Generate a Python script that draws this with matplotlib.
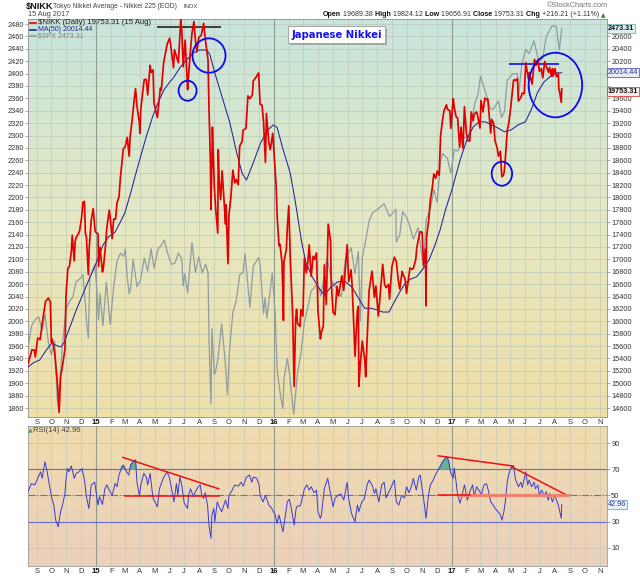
import matplotlib.pyplot as plt
import matplotlib.dates as mdates
import matplotlib.patheffects as pe
import matplotlib.colors as mcolors
import matplotlib.transforms as mtransforms
from matplotlib.patches import Ellipse
from matplotlib.lines import Line2D
import numpy as np
import pandas as pd

plt.rcParams['font.family'] = ['Liberation Sans', 'DejaVu Sans']

# --- Nikkei 225 daily closes (red line, right axis) ---
nikk_dates = [
    '2014-08-14', '2014-08-19', '2014-08-22', '2014-08-27', '2014-08-29', '2014-09-03', '2014-09-08', '2014-09-12',
    '2014-09-19', '2014-09-25', '2014-09-29', '2014-10-01', '2014-10-03', '2014-10-08', '2014-10-10', '2014-10-14',
    '2014-10-17', '2014-10-20', '2014-10-22', '2014-10-24', '2014-10-29', '2014-10-31', '2014-11-04', '2014-11-07',
    '2014-11-11', '2014-11-13', '2014-11-17', '2014-11-19', '2014-11-21', '2014-11-25', '2014-11-28', '2014-12-02',
    '2014-12-05', '2014-12-08', '2014-12-10', '2014-12-12', '2014-12-16', '2014-12-18', '2014-12-22', '2014-12-26',
    '2014-12-30', '2015-01-05', '2015-01-06', '2015-01-09', '2015-01-14', '2015-01-16', '2015-01-21', '2015-01-23',
    '2015-01-28', '2015-01-30', '2015-02-03', '2015-02-06', '2015-02-10', '2015-02-13', '2015-02-17', '2015-02-20',
    '2015-02-26', '2015-03-02', '2015-03-06', '2015-03-10', '2015-03-12', '2015-03-16', '2015-03-20', '2015-03-23',
    '2015-03-26', '2015-03-31', '2015-04-01', '2015-04-03', '2015-04-08', '2015-04-10', '2015-04-14', '2015-04-17',
    '2015-04-22', '2015-04-24', '2015-04-28', '2015-04-30', '2015-05-07', '2015-05-08', '2015-05-13', '2015-05-15',
    '2015-05-20', '2015-05-22', '2015-05-27', '2015-06-01', '2015-06-03', '2015-06-09', '2015-06-11', '2015-06-16',
    '2015-06-19', '2015-06-24', '2015-06-26', '2015-06-29', '2015-07-03', '2015-07-08', '2015-07-09', '2015-07-14',
    '2015-07-17', '2015-07-21', '2015-07-24', '2015-07-27', '2015-07-31', '2015-08-05', '2015-08-10', '2015-08-14',
    '2015-08-19', '2015-08-21', '2015-08-24', '2015-08-25', '2015-08-27', '2015-08-28', '2015-09-01', '2015-09-04',
    '2015-09-08', '2015-09-09', '2015-09-11', '2015-09-14', '2015-09-17', '2015-09-24', '2015-09-25', '2015-09-29',
    '2015-10-01', '2015-10-05', '2015-10-09', '2015-10-13', '2015-10-16', '2015-10-20', '2015-10-23', '2015-10-28',
    '2015-10-30', '2015-11-05', '2015-11-09', '2015-11-13', '2015-11-18', '2015-11-20', '2015-11-26', '2015-12-01',
    '2015-12-04', '2015-12-08', '2015-12-11', '2015-12-15', '2015-12-17', '2015-12-22', '2015-12-25', '2015-12-30',
    '2016-01-04', '2016-01-06', '2016-01-08', '2016-01-12', '2016-01-14', '2016-01-18', '2016-01-20', '2016-01-21',
    '2016-01-22', '2016-01-27', '2016-01-29', '2016-02-01', '2016-02-04', '2016-02-09', '2016-02-10', '2016-02-12',
    '2016-02-15', '2016-02-17', '2016-02-19', '2016-02-24', '2016-02-26', '2016-03-01', '2016-03-04', '2016-03-08',
    '2016-03-11', '2016-03-14', '2016-03-18', '2016-03-22', '2016-03-25', '2016-03-29', '2016-04-01', '2016-04-06',
    '2016-04-08', '2016-04-12', '2016-04-14', '2016-04-18', '2016-04-22', '2016-04-27', '2016-04-28', '2016-05-02',
    '2016-05-06', '2016-05-10', '2016-05-13', '2016-05-18', '2016-05-20', '2016-05-24', '2016-05-27', '2016-05-31',
    '2016-06-03', '2016-06-08', '2016-06-10', '2016-06-14', '2016-06-16', '2016-06-21', '2016-06-23', '2016-06-24',
    '2016-06-27', '2016-07-01', '2016-07-06', '2016-07-08', '2016-07-11', '2016-07-15', '2016-07-21', '2016-07-26',
    '2016-07-29', '2016-08-03', '2016-08-05', '2016-08-10', '2016-08-12', '2016-08-16', '2016-08-19', '2016-08-24',
    '2016-08-26', '2016-08-31', '2016-09-05', '2016-09-09', '2016-09-13', '2016-09-16', '2016-09-21', '2016-09-23',
    '2016-09-27', '2016-09-30', '2016-10-05', '2016-10-07', '2016-10-12', '2016-10-14', '2016-10-19', '2016-10-21',
    '2016-10-26', '2016-10-28', '2016-11-01', '2016-11-04', '2016-11-08', '2016-11-09', '2016-11-10', '2016-11-15',
    '2016-11-18', '2016-11-22', '2016-11-25', '2016-11-29', '2016-12-02', '2016-12-06', '2016-12-09', '2016-12-13',
    '2016-12-16', '2016-12-21', '2016-12-23', '2016-12-28', '2016-12-30', '2017-01-04', '2017-01-06', '2017-01-10',
    '2017-01-13', '2017-01-17', '2017-01-20', '2017-01-24', '2017-01-27', '2017-01-31', '2017-02-03', '2017-02-07',
    '2017-02-10', '2017-02-14', '2017-02-16', '2017-02-21', '2017-02-24', '2017-02-28', '2017-03-02', '2017-03-06',
    '2017-03-10', '2017-03-14', '2017-03-16', '2017-03-22', '2017-03-24', '2017-03-28', '2017-03-31', '2017-04-04',
    '2017-04-07', '2017-04-11', '2017-04-13', '2017-04-14', '2017-04-17', '2017-04-19', '2017-04-21', '2017-04-25',
    '2017-04-28', '2017-05-02', '2017-05-08', '2017-05-10', '2017-05-12', '2017-05-16', '2017-05-18', '2017-05-23',
    '2017-05-26', '2017-05-30', '2017-06-02', '2017-06-06', '2017-06-08', '2017-06-09', '2017-06-13', '2017-06-15',
    '2017-06-20', '2017-06-23', '2017-06-27', '2017-06-30', '2017-07-04', '2017-07-07', '2017-07-11', '2017-07-14',
    '2017-07-19', '2017-07-21', '2017-07-25', '2017-07-27', '2017-07-28', '2017-08-01', '2017-08-04', '2017-08-08',
    '2017-08-09', '2017-08-10', '2017-08-14', '2017-08-15',
]
nikk_close = [
    15315, 15450, 15540, 15535, 15425, 15730, 15705, 15950,
    16320, 16375, 16310, 15660, 15710, 15480, 15300, 14940,
    14530, 15110, 15195, 15290, 15550, 16410, 16860, 16880,
    17125, 17390, 16975, 17290, 17355, 17405, 17460, 17665,
    17920, 17935, 17410, 17370, 16755, 17210, 17635, 17820,
    17450, 17410, 16885, 17195, 16795, 16865, 17280, 17510,
    17795, 17675, 17335, 17650, 17650, 17915, 18005, 18330,
    18785, 18825, 18970, 18665, 18990, 19245, 19560, 19755,
    19470, 19205, 19035, 19435, 19790, 19905, 19905, 19655,
    20135, 20020, 20060, 19520, 19290, 19380, 19765, 19730,
    20195, 20265, 20475, 20570, 20475, 20095, 20385, 20255,
    20175, 20870, 20705, 20110, 20540, 19740, 19855, 20385,
    20650, 20840, 20545, 20350, 20585, 20615, 20810, 20520,
    20220, 19435, 18540, 17805, 18575, 19135, 18165, 17790,
    17425, 18770, 18265, 17965, 18430, 17570, 17880, 16930,
    17720, 18005, 18440, 18235, 18290, 18205, 18825, 18905,
    19085, 19115, 19640, 19595, 19650, 19880, 19945, 20010,
    19505, 19490, 19230, 18565, 19355, 18885, 18770, 19035,
    18450, 18190, 17700, 17220, 17240, 16955, 16415, 16015,
    16960, 17165, 17520, 17865, 17045, 16085, 15715, 14950,
    16020, 16195, 15965, 15915, 16190, 16085, 17015, 16785,
    16940, 17235, 16725, 17050, 17000, 17105, 16165, 15715,
    15820, 15930, 16910, 16275, 17570, 17290, 16665, 16145,
    16105, 16565, 16410, 16645, 16735, 16500, 16835, 17235,
    16640, 16830, 16600, 15860, 15435, 16170, 16240, 14950,
    15310, 15680, 15380, 15105, 15710, 16495, 16810, 16385,
    16570, 16085, 16255, 16735, 16920, 16595, 16545, 16595,
    16360, 16885, 17035, 16965, 16670, 16520, 16805, 16755,
    16685, 16450, 16735, 16860, 16840, 16855, 17000, 17185,
    17390, 17445, 17440, 16905, 17170, 16250, 17345, 17670,
    17965, 18160, 18380, 18310, 18425, 18360, 18995, 19250,
    19400, 19495, 19425, 19400, 19115, 19595, 19455, 19300,
    19285, 18815, 19135, 18790, 19465, 19040, 18920, 18910,
    19380, 19240, 19345, 19380, 19285, 19120, 19565, 19380,
    19605, 19575, 19590, 19040, 19260, 19200, 18910, 18810,
    18665, 18745, 18425, 18335, 18355, 18430, 18620, 19080,
    19195, 19445, 19895, 19900, 19885, 19920, 19555, 19615,
    19685, 19675, 20175, 19980, 19910, 20015, 19900, 19830,
    20230, 20130, 20225, 20035, 20080, 19930, 20195, 20120,
    20020, 20100, 19955, 20080, 19960, 20080, 19950, 19995,
    19740, 19730, 19535, 19753.31,
]

# --- 50-day moving average of the Nikkei (dark blue, right axis) ---
ma_dates = [
    '2014-08-14', '2014-08-25', '2014-09-07', '2014-09-21', '2014-10-02', '2014-10-08', '2014-10-20', '2014-10-27',
    '2014-11-06', '2014-11-21', '2014-12-06', '2014-12-17', '2014-12-28', '2015-01-04', '2015-01-15', '2015-01-26',
    '2015-02-09', '2015-02-19', '2015-03-01', '2015-03-14', '2015-03-20', '2015-04-02', '2015-04-14', '2015-04-27',
    '2015-05-08', '2015-05-20', '2015-06-01', '2015-06-10', '2015-06-23', '2015-07-06', '2015-07-19', '2015-08-01',
    '2015-08-17', '2015-08-23', '2015-09-02', '2015-09-17', '2015-10-03', '2015-10-17', '2015-10-28', '2015-11-06',
    '2015-11-20', '2015-12-05', '2015-12-20', '2015-12-31', '2016-01-08', '2016-01-19', '2016-02-04', '2016-02-14',
    '2016-02-17', '2016-02-27', '2016-03-07', '2016-03-20', '2016-04-02', '2016-04-14', '2016-04-27', '2016-05-12',
    '2016-05-27', '2016-06-10', '2016-06-22', '2016-07-06', '2016-07-20', '2016-08-02', '2016-08-12', '2016-08-25',
    '2016-09-04', '2016-09-18', '2016-09-28', '2016-10-08', '2016-10-21', '2016-11-04', '2016-11-15', '2016-11-26',
    '2016-12-08', '2016-12-19', '2017-01-03', '2017-01-18', '2017-02-01', '2017-02-14', '2017-02-26', '2017-03-11',
    '2017-03-24', '2017-04-06', '2017-04-19', '2017-05-03', '2017-05-17', '2017-06-01', '2017-06-13', '2017-06-26',
    '2017-07-09', '2017-07-22', '2017-08-04', '2017-08-15',
]
ma_vals = [
    15262, 15330, 15375, 15540, 15650, 15620, 15585, 15650,
    15860, 16180, 16460, 16670, 16860, 17000, 17230, 17360,
    17440, 17590, 17750, 18100, 18280, 18650, 18980, 19300,
    19525, 19730, 19860, 19945, 20105, 20220, 20330, 20380,
    20380, 20300, 20010, 19620, 19200, 18720, 18390, 18280,
    18560, 18880, 19090, 19170, 19130, 18810, 18390, 17950,
    17800, 17300, 16950, 16720, 16550, 16420, 16550, 16640,
    16640, 16550, 16390, 16210, 16210, 16180, 16150, 16150,
    16300, 16500, 16620, 16680, 16720, 16860, 16990, 17200,
    17475, 17800, 18170, 18600, 18930, 19140, 19220, 19220,
    19170, 19120, 19060, 19090, 19170, 19220, 19410, 19690,
    19860, 19950, 20010, 20014.44,
]

# --- S&P 500 (grey line, left axis) ---
spx_dates = [
    '2014-08-14', '2014-08-21', '2014-08-29', '2014-09-05', '2014-09-12', '2014-09-18', '2014-09-25', '2014-10-01',
    '2014-10-08', '2014-10-13', '2014-10-15', '2014-10-17', '2014-10-24', '2014-10-31', '2014-11-07', '2014-11-14',
    '2014-11-21', '2014-11-28', '2014-12-05', '2014-12-10', '2014-12-12', '2014-12-16', '2014-12-19', '2014-12-29',
    '2015-01-02', '2015-01-06', '2015-01-09', '2015-01-15', '2015-01-22', '2015-01-30', '2015-02-06', '2015-02-13',
    '2015-02-20', '2015-02-27', '2015-03-02', '2015-03-06', '2015-03-10', '2015-03-13', '2015-03-18', '2015-03-26',
    '2015-04-02', '2015-04-10', '2015-04-17', '2015-04-24', '2015-04-30', '2015-05-08', '2015-05-15', '2015-05-21',
    '2015-05-29', '2015-06-05', '2015-06-12', '2015-06-19', '2015-06-26', '2015-06-29', '2015-07-02', '2015-07-08',
    '2015-07-17', '2015-07-24', '2015-07-31', '2015-08-07', '2015-08-14', '2015-08-19', '2015-08-21', '2015-08-25',
    '2015-08-27', '2015-09-01', '2015-09-04', '2015-09-09', '2015-09-16', '2015-09-23', '2015-09-28', '2015-10-02',
    '2015-10-09', '2015-10-16', '2015-10-23', '2015-10-30', '2015-11-03', '2015-11-13', '2015-11-20', '2015-12-01',
    '2015-12-04', '2015-12-11', '2015-12-14', '2015-12-18', '2015-12-29', '2016-01-04', '2016-01-08', '2016-01-15',
    '2016-01-20', '2016-01-22', '2016-01-29', '2016-02-03', '2016-02-11', '2016-02-19', '2016-02-26', '2016-03-04',
    '2016-03-11', '2016-03-18', '2016-03-31', '2016-04-07', '2016-04-20', '2016-04-29', '2016-05-06', '2016-05-19',
    '2016-05-27', '2016-06-08', '2016-06-16', '2016-06-23', '2016-06-27', '2016-07-01', '2016-07-08', '2016-07-15',
    '2016-07-22', '2016-08-05', '2016-08-15', '2016-08-26', '2016-09-08', '2016-09-09', '2016-09-16', '2016-09-22',
    '2016-09-30', '2016-10-07', '2016-10-14', '2016-10-24', '2016-11-04', '2016-11-09', '2016-11-18', '2016-11-25',
    '2016-12-02', '2016-12-09', '2016-12-13', '2016-12-23', '2016-12-30', '2017-01-06', '2017-01-13', '2017-01-26',
    '2017-02-03', '2017-02-10', '2017-02-17', '2017-02-24', '2017-03-01', '2017-03-10', '2017-03-21', '2017-03-27',
    '2017-04-07', '2017-04-13', '2017-04-19', '2017-04-25', '2017-05-05', '2017-05-16', '2017-05-17', '2017-05-25',
    '2017-06-02', '2017-06-09', '2017-06-19', '2017-06-29', '2017-07-07', '2017-07-14', '2017-07-26', '2017-08-04',
    '2017-08-10', '2017-08-15',
]
spx_close = [
    1958, 1992, 2003, 2007, 1985, 2011, 1965, 1946,
    1968, 1874, 1862, 1886, 1964, 2018, 2032, 2039,
    2064, 2068, 2075, 2026, 2002, 1973, 2071, 2091,
    2058, 2003, 2045, 1993, 2063, 1995, 2055, 2097,
    2110, 2105, 2117, 2071, 2044, 2053, 2100, 2056,
    2066, 2102, 2081, 2117, 2086, 2116, 2123, 2131,
    2107, 2092, 2094, 2110, 2101, 2057, 2077, 2046,
    2127, 2079, 2104, 2078, 2092, 2079, 1971, 1867,
    1988, 1914, 1921, 1943, 1996, 1938, 1881, 1951,
    2014, 2033, 2075, 2079, 2109, 2023, 2089, 2103,
    2092, 2012, 2038, 2005, 2078, 2012, 1922, 1880,
    1859, 1906, 1940, 1912, 1850, 1917, 1948, 1999,
    2022, 2049, 2060, 2041, 2102, 2065, 2057, 2040,
    2099, 2119, 2077, 2113, 2000, 2103, 2130, 2162,
    2175, 2183, 2190, 2169, 2181, 2128, 2139, 2177,
    2168, 2153, 2133, 2151, 2085, 2163, 2182, 2213,
    2192, 2259, 2271, 2263, 2239, 2277, 2275, 2296,
    2297, 2316, 2351, 2367, 2396, 2373, 2344, 2342,
    2356, 2329, 2338, 2389, 2399, 2400, 2357, 2415,
    2439, 2432, 2453, 2419, 2425, 2459, 2477, 2476,
    2438, 2473.31,
]

# --- RSI(14) of the Nikkei (lower panel) ---
rsi_dates = [
    '2014-08-14', '2014-08-21', '2014-08-28', '2014-09-04', '2014-09-09', '2014-09-12', '2014-09-18', '2014-09-22',
    '2014-09-26', '2014-10-02', '2014-10-06', '2014-10-10', '2014-10-15', '2014-10-20', '2014-10-24', '2014-10-29',
    '2014-10-31', '2014-11-03', '2014-11-06', '2014-11-11', '2014-11-17', '2014-11-21', '2014-11-27', '2014-12-03',
    '2014-12-08', '2014-12-12', '2014-12-17', '2014-12-22', '2014-12-29', '2015-01-05', '2015-01-08', '2015-01-14',
    '2015-01-19', '2015-01-23', '2015-01-28', '2015-02-03', '2015-02-09', '2015-02-13', '2015-02-17', '2015-02-23',
    '2015-02-26', '2015-03-03', '2015-03-09', '2015-03-13', '2015-03-18', '2015-03-23', '2015-03-26', '2015-03-31',
    '2015-04-03', '2015-04-09', '2015-04-14', '2015-04-17', '2015-04-22', '2015-04-28', '2015-05-07', '2015-05-11',
    '2015-05-14', '2015-05-20', '2015-05-27', '2015-06-01', '2015-06-05', '2015-06-10', '2015-06-15', '2015-06-18',
    '2015-06-22', '2015-06-26', '2015-07-01', '2015-07-08', '2015-07-10', '2015-07-14', '2015-07-20', '2015-07-24',
    '2015-07-29', '2015-08-03', '2015-08-06', '2015-08-10', '2015-08-13', '2015-08-18', '2015-08-21', '2015-08-25',
    '2015-08-27', '2015-08-31', '2015-09-02', '2015-09-07', '2015-09-10', '2015-09-16', '2015-09-24', '2015-09-29',
    '2015-10-01', '2015-10-06', '2015-10-13', '2015-10-20', '2015-10-26', '2015-10-30', '2015-11-06', '2015-11-12',
    '2015-11-17', '2015-11-20', '2015-11-27', '2015-12-02', '2015-12-04', '2015-12-10', '2015-12-15', '2015-12-22',
    '2015-12-28', '2016-01-04', '2016-01-08', '2016-01-12', '2016-01-20', '2016-01-25', '2016-01-29', '2016-02-02',
    '2016-02-05', '2016-02-12', '2016-02-16', '2016-02-19', '2016-02-25', '2016-03-01', '2016-03-04', '2016-03-09',
    '2016-03-14', '2016-03-18', '2016-03-24', '2016-03-29', '2016-04-01', '2016-04-06', '2016-04-08', '2016-04-14',
    '2016-04-21', '2016-04-26', '2016-05-02', '2016-05-06', '2016-05-12', '2016-05-18', '2016-05-24', '2016-05-31',
    '2016-06-03', '2016-06-09', '2016-06-13', '2016-06-16', '2016-06-21', '2016-06-24', '2016-06-30', '2016-07-05',
    '2016-07-11', '2016-07-15', '2016-07-21', '2016-07-26', '2016-07-29', '2016-08-04', '2016-08-10', '2016-08-15',
    '2016-08-19', '2016-08-25', '2016-08-30', '2016-09-05', '2016-09-09', '2016-09-14', '2016-09-20', '2016-09-26',
    '2016-09-30', '2016-10-05', '2016-10-11', '2016-10-14', '2016-10-20', '2016-10-25', '2016-10-28', '2016-11-04',
    '2016-11-09', '2016-11-14', '2016-11-18', '2016-11-24', '2016-11-28', '2016-12-02', '2016-12-08', '2016-12-13',
    '2016-12-19', '2016-12-22', '2016-12-26', '2016-12-29', '2017-01-04', '2017-01-06', '2017-01-10', '2017-01-13',
    '2017-01-18', '2017-01-23', '2017-01-27', '2017-02-02', '2017-02-07', '2017-02-13', '2017-02-16', '2017-02-21',
    '2017-02-27', '2017-03-03', '2017-03-08', '2017-03-13', '2017-03-17', '2017-03-22', '2017-03-27', '2017-03-31',
    '2017-04-06', '2017-04-11', '2017-04-14', '2017-04-18', '2017-04-21', '2017-04-25', '2017-04-28', '2017-05-02',
    '2017-05-08', '2017-05-12', '2017-05-18', '2017-05-23', '2017-05-26', '2017-06-02', '2017-06-06', '2017-06-09',
    '2017-06-14', '2017-06-19', '2017-06-22', '2017-06-27', '2017-06-30', '2017-07-05', '2017-07-10', '2017-07-14',
    '2017-07-18', '2017-07-21', '2017-07-27', '2017-07-31', '2017-08-03', '2017-08-08', '2017-08-14', '2017-08-15',
]
rsi_vals = [
    52.8, 59, 58, 64, 68, 63, 75.7, 69,
    60, 47.7, 42.6, 31, 26, 37.5, 42.6, 51.5,
    61.7, 70.6, 68, 72.4, 63, 66.8, 68, 70.6,
    61.7, 49, 40, 58, 60, 42.6, 49, 43,
    55, 58, 54, 50, 59, 56.6, 65.5, 71.9,
    73, 69, 65.5, 73, 75.7, 77, 60, 50,
    58, 66.8, 64, 58, 66.8, 47.7, 41.3, 55,
    58, 64, 68, 63, 55, 45, 59, 50,
    64, 58, 44, 40, 50, 55, 49, 52.8,
    56, 58, 50, 47.7, 52, 42.6, 27.3, 17.2,
    35, 40, 30, 45, 42, 37.5, 46.4, 40,
    50, 52.8, 58, 57, 60, 57, 64, 65.5,
    60, 64, 63, 58, 50, 45, 50, 42.6,
    40, 35, 28.6, 35, 22.2, 35, 45, 47,
    42.6, 27.3, 40, 42, 42, 50, 55, 58,
    54, 56.6, 52, 54, 37.5, 32.4, 35, 55,
    63, 52.8, 41.3, 47.7, 50, 51, 46.4, 60,
    47.7, 36, 32.4, 29.9, 42.6, 37.5, 45, 47,
    58, 61.7, 58, 51.5, 55, 45, 58, 60,
    48, 52.8, 56.6, 61.7, 45, 42.6, 50, 48,
    56.6, 52, 58, 63, 54, 64, 65.5, 47.7,
    32.4, 50, 58, 61.7, 65.5, 68, 71.9, 75.7,
    78.2, 79.5, 75.7, 68, 63, 70.6, 60, 50,
    44, 51.5, 58, 46.4, 52.8, 58, 49, 56.6,
    53, 51, 58, 59, 54, 45, 42.6, 40,
    37.5, 35, 31, 37.5, 45, 60, 66, 70.6,
    72.4, 62, 56.6, 60, 56, 68, 58, 61.7,
    56.6, 60, 55, 58, 50, 54, 49, 52.8,
    46.4, 51.5, 45, 50, 47.7, 42.6, 32.4, 42.96,
]

nikk_t = pd.to_datetime(nikk_dates)
ma_t = pd.to_datetime(ma_dates)
spx_t = pd.to_datetime(spx_dates)
rsi_t = pd.to_datetime(rsi_dates)
rsi_v = np.array(rsi_vals)

W, H = 640, 576
fig = plt.figure(figsize=(W / 100, H / 100), dpi=100)
fig.patch.set_facecolor('white')


def fx(px):
    return px / W


def fy(py):
    return 1 - py / H


ax = fig.add_axes([fx(28), fy(417), (607 - 28) / W, (417 - 19) / H])
ax_r = ax.twinx()
ax_rsi = fig.add_axes([fx(28), fy(566), (607 - 28) / W, (566 - 426) / H])

# price lines
ax.plot(spx_t, spx_close, color='#8e9ca4', lw=0.9, zorder=2)
ax_r.plot(ma_t, ma_vals, color='#23239a', lw=0.75, zorder=3)
ax_r.plot(nikk_t, nikk_close, color='#e30000', lw=1.25, zorder=4)

# annotations drawn on the chart
ax_r.hlines(20750, pd.Timestamp('2015-05-07'), pd.Timestamp('2015-09-14'), color='#111111', lw=1.1)
ax_r.hlines(20160, pd.Timestamp('2017-04-29'), pd.Timestamp('2017-08-09'), color='#1010e0', lw=1.2)
circles = [('2015-07-08', 19723, 37, 323), ('2015-08-21', 20291, 68, 555),
           ('2017-04-14', 18383, 42, 388), ('2017-08-02', 19815, 110, 1043)]
for d, v, w, h in circles:
    ax_r.add_patch(Ellipse((mdates.date2num(pd.Timestamp(d)), v), w, h,
                           fill=False, ec='#0a0af0', lw=1.3, zorder=5))

t = ax.text(0.533, 0.961, 'Japanese Nikkei', transform=ax.transAxes, ha='center', va='center',
            family='DejaVu Sans', fontsize=7.3, fontweight='bold', color='#1414ee', zorder=6,
            bbox=dict(boxstyle='square,pad=0.3', fc='white', ec='#9a9a9a', lw=0.6))
t.get_bbox_patch().set_path_effects([pe.withSimplePatchShadow(offset=(1.5, -1.5), shadow_rgbFace='#777777', alpha=0.5)])

# RSI panel
ax_rsi.plot(rsi_t, rsi_v, color='#3b3bd2', lw=0.7, zorder=3)
for lvl, ls in ((70, '-'), (30, '-'), (50, '-.')):
    ax_rsi.axhline(lvl, color='#6a6ac8', lw=0.8, ls=ls, zorder=2)
windows = [('2015-02-18', '2015-03-27'), ('2016-12-05', '2017-01-09'), ('2017-04-27', '2017-05-11')]
mask = np.zeros(len(rsi_v), dtype=bool)
for a0, a1 in windows:
    mask |= (rsi_t >= pd.Timestamp(a0)) & (rsi_t <= pd.Timestamp(a1))
ax_rsi.fill_between(rsi_t, 70, rsi_v, where=mask & (rsi_v > 70), interpolate=True,
                    color='#63ab98', alpha=0.95, zorder=2.5)
ax_rsi.plot([pd.Timestamp('2015-02-25'), pd.Timestamp('2015-09-10')], [79, 55], color='#f01010', lw=1.1, zorder=4)
ax_rsi.plot([pd.Timestamp('2015-03-02'), pd.Timestamp('2015-09-10')], [49.7, 49.7], color='#f01010', lw=1.1, zorder=4)
ax_rsi.plot([pd.Timestamp('2016-12-04'), pd.Timestamp('2017-05-07')], [80.2, 72.4], color='#f01010', lw=1.1, zorder=4)
ax_rsi.plot([pd.Timestamp('2017-05-04'), pd.Timestamp('2017-08-25')], [71.9, 50.2], color='#f01010', lw=1.1, zorder=4)
ax_rsi.plot([pd.Timestamp('2017-01-14'), pd.Timestamp('2017-08-28')], [50.3, 50.3], color='#f28070', lw=2.4,
            alpha=0.9, zorder=4)
ax_rsi.plot([pd.Timestamp('2016-12-04'), pd.Timestamp('2017-02-07')], [50.5, 50.5], color='#f01010', lw=1.1, zorder=4)

# month grid and labels
months = pd.date_range('2014-09-01', '2017-11-01', freq='MS')
mlabels = [m.strftime('%y') if m.month == 1 else m.strftime('%b')[0] for m in months]
for a in (ax, ax_rsi):
    for m in months:
        a.axvline(m, color='#8f9c8f' if m.month == 1 else '#c2cbbb', lw=0.8 if m.month == 1 else 0.5, zorder=0.6)
    a.set_xticks(months)
    a.set_xticklabels(mlabels)
    a.tick_params(axis='x', length=0, pad=1.5, labelsize=5.5, labelcolor='#333333')
    for lab, m in zip(a.get_xticklabels(), months):
        if m.month == 1:
            lab.set_fontweight('bold')
            lab.set_color('#111111')

# y axes
ax.set_yticks(np.arange(1860, 2481, 20))
ax.tick_params(axis='y', labelsize=5.3, length=2, width=0.5, pad=1, color='#888888', labelcolor='#333333')
ax.grid(axis='y', color='#bcc8b6', lw=0.5)
ax.set_axisbelow(True)

r_ticks = np.arange(14600, 20801, 200)
ax_r.set_yticks(r_ticks)
ax_r.set_yticklabels(['' if v in (19800, 20000, 20800) else str(v) for v in r_ticks])
ax_r.tick_params(axis='y', labelsize=5.3, length=2, width=0.5, pad=1, color='#888888', labelcolor='#333333')

ax_rsi.yaxis.tick_right()
ax_rsi.set_yticks([10, 30, 50, 70, 90])
ax_rsi.tick_params(axis='y', labelsize=5.5, length=2, width=0.5, pad=1, color='#888888', labelcolor='#333333')
ax_rsi.grid(axis='y', color='#cdbfa8', lw=0.5)
ax_rsi.set_axisbelow(True)


def paint(a, stops):
    s = np.linspace(0, 1, 256)
    pos = np.linspace(0, 1, len(stops))
    rgb = np.array([mcolors.to_rgb(c) for c in stops])
    img = np.stack([np.interp(s, pos, rgb[:, k]) for k in range(3)], axis=-1)[:, None, :]
    a.imshow(img, extent=[0, 1, 0, 1], transform=a.transAxes, aspect='auto', zorder=-10)


paint(ax, ['#c7e5dd', '#e5e8c3', '#efdfa8'])
paint(ax_rsi, ['#f0dcad', '#ebd0bc'])

x_lo, x_hi = pd.Timestamp('2014-08-14'), pd.Timestamp('2017-11-16')
ax.set_xlim(x_lo, x_hi)
ax_rsi.set_xlim(x_lo, x_hi)
ax.set_ylim(1845.5, 2488.1)
ax_r.set_ylim(14455, 20881)
ax_rsi.set_ylim(-4, 103)

for a in (ax, ax_r, ax_rsi):
    for sp in a.spines.values():
        sp.set_color('#9a9a9a')
        sp.set_linewidth(0.6)

# last-value boxes on the right axis
tr_main = mtransforms.blended_transform_factory(ax.transAxes, ax.transData)
tr_r = mtransforms.blended_transform_factory(ax_r.transAxes, ax_r.transData)
tr_rsi = mtransforms.blended_transform_factory(ax_rsi.transAxes, ax_rsi.transData)
box_kw = dict(fontsize=5.2, va='center', ha='left', clip_on=False, zorder=7)
ax.text(1.001, 2473.31, '2473.31', transform=tr_main, fontweight='bold', color='#111111',
        bbox=dict(boxstyle='square,pad=0.12', fc='#dcefee', ec='#7ab3c2', lw=0.6), **box_kw)
ax_r.text(1.001, 20014.44, '20014.44', transform=tr_r, color='#3a3a8a',
          bbox=dict(boxstyle='square,pad=0.12', fc='#e6ebf6', ec='#5a5ac0', lw=0.6), **box_kw)
ax_r.text(1.001, 19707, '19753.31', transform=tr_r, fontweight='bold', color='#111111',
          bbox=dict(boxstyle='square,pad=0.12', fc='#fbeaea', ec='#e04040', lw=0.6), **box_kw)
ax_rsi.text(1.001, 42.96, '42.96', transform=tr_rsi, color='#3a3a8a',
            bbox=dict(boxstyle='square,pad=0.12', fc='#e4eef8', ec='#7aa0d0', lw=0.6), **box_kw)

# legend rows inside the price panel
legend_rows = [('\\$NIKK (Daily) 19753.31 (15 Aug)', '#e30000', '#222222', 5.6, 22.7),
               ('MA(50) 20014.44', '#23239a', '#23239a', 5.0, 29.7),
               ('\\$SPX 2473.31', '#8e9ca4', '#808080', 5.0, 36.3)]
for label, lc, tc, fs, ypx in legend_rows:
    fig.add_artist(Line2D([fx(30), fx(36)], [fy(ypx), fy(ypx)], color=lc, lw=1.2))
    fig.text(fx(38), fy(ypx), label, fontsize=fs, color=tc, va='center')

fig.text(fx(28), fy(430.5), '\u25b2', fontsize=4.5, color='#4e9f8a', va='center', family='DejaVu Sans')
fig.text(fx(33), fy(430.5), 'RSI(14) 42.96', fontsize=5.5, color='#444444', va='center')

# header
fig.text(fx(26), fy(6.5), '\\$NIKK', fontsize=6.6, fontweight='bold', color='#111111', va='center')
fig.text(fx(53), fy(6.5), 'Tokyo Nikkei Average - Nikkei 225 (EOD)', fontsize=4.85, color='#444444', va='center')
fig.text(fx(183), fy(7), 'INDX', fontsize=4.3, color='#444444', va='center')
fig.text(fx(28), fy(14.5), '15 Aug 2017', fontsize=5.3, color='#444444', va='center')
fig.text(fx(608), fy(5.5), '\u00a9StockCharts.com', fontsize=5.3, color='#777777', va='center', ha='right')

header = [('Open', True), (' 19689.38', False), (' High', True), (' 19824.12', False), (' Low', True),
          (' 19656.91', False), (' Close', True), (' 19753.31', False), (' Chg', True),
          (' +216.21 (+1.11%)', False)]
prev = fig.text(fx(323), fy(15), header[0][0], fontsize=5.1, fontweight='bold', color='#111111', va='center')
for txt, bold in header[1:]:
    prev = ax.annotate(txt, xy=(1, 0), xycoords=prev, va='bottom', ha='left',
                       fontsize=5.1, fontweight='bold' if bold else 'normal',
                       color='#111111' if bold else '#333333', annotation_clip=False)
ax.annotate(' \u25b2', xy=(1, 0), xycoords=prev, va='bottom', fontsize=4.3, color='#2a8a2a',
            family='DejaVu Sans', annotation_clip=False)

fig.savefig('out.png', dpi=100)
